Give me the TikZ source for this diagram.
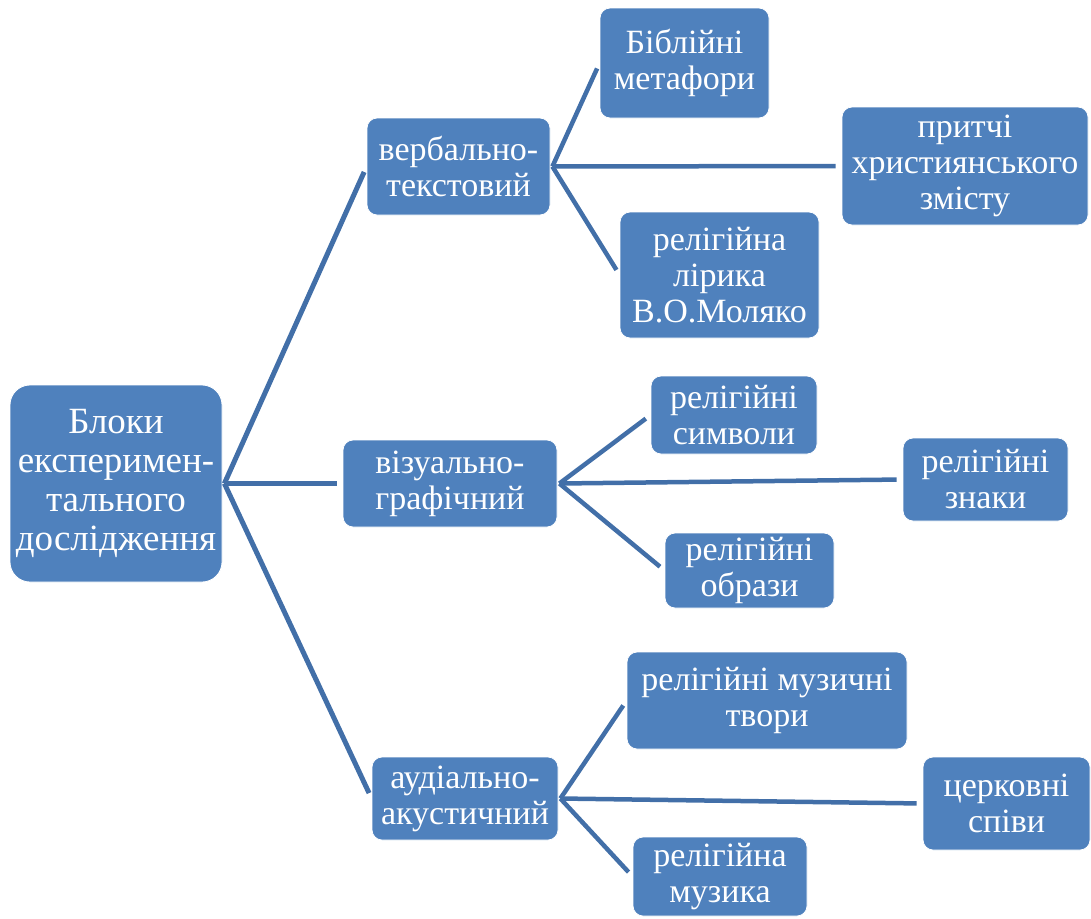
\documentclass[tikz,border=0pt]{standalone}
\usepackage{fontspec}
\setmainfont{LiberationSerif}[Extension=.ttf, UprightFont=*-Regular, BoldFont=*-Bold]
\definecolor{boxblue}{RGB}{79,129,189}
\definecolor{lineblue}{RGB}{66,111,168}
\tikzset{
  box/.style={fill=boxblue, draw=white, line width=0.8pt, rounded corners=10pt,
    text=white, align=center, inner sep=0pt,
    font=\fontsize{34}{36}\selectfont},
  rootbox/.style={box, rounded corners=20pt, font=\fontsize{37}{39}\selectfont},
  link/.style={draw=lineblue, line width=5pt, shorten >=6pt},
  sublink/.style={draw=lineblue, line width=4.5pt, shorten >=6pt}
}
\begin{document}
\begin{tikzpicture}[x=1pt,y=-1pt]
\useasboundingbox (0,0) rectangle (1091,918);
\node[rootbox, minimum width=212pt, minimum height=197pt] (root) at (116,483.5)
  {Блоки\\експеримен-\\тального\\дослідження};
\node[box, minimum width=183pt, minimum height=97pt] (verb) at (458.5,166.5) {вербально-\\текстовий};
\node[box, minimum width=214pt, minimum height=87pt] (viz) at (450,483.5) {візуально-\\графічний};
\node[box, minimum width=186pt, minimum height=83pt] (aud) at (465,798.5) {аудіально-\\акустичний};
\node[box, minimum width=169pt, minimum height=110pt] (bib) at (684.5,63) {Біблійні\\метафори};
\node[box, minimum width=246pt, minimum height=118pt] (prit) at (965,166) {притчі\\християнського\\змісту};
\node[box, minimum width=199pt, minimum height=126pt] (lir) at (719.5,275) {релігійна\\лірика\\В.О.Моляко};
\node[box, minimum width=166pt, minimum height=78pt] (sym) at (734,415) {релігійні\\символи};
\node[box, minimum width=165pt, minimum height=83pt] (zn) at (985.5,479.5) {релігійні\\знаки};
\node[box, minimum width=169pt, minimum height=75pt] (obr) at (749.5,570.5) {релігійні\\образи};
\node[box, minimum width=280pt, minimum height=97pt] (tv) at (767,700.5) {релігійні музичні\\твори};
\node[box, minimum width=167pt, minimum height=93pt] (ts) at (1006.5,803.5) {церковні\\співи};
\node[box, minimum width=174pt, minimum height=79pt] (muz) at (720,876.5) {релігійна\\музика};
% connectors
\draw[link] ([xshift=2pt]root.east) -- (verb.west);
\draw[link] ([xshift=2pt]root.east) -- (viz.west);
\draw[link] ([xshift=2pt]root.east) -- (aud.west);
\draw[sublink] ([xshift=2pt]verb.east) -- (bib.west);
\draw[sublink] ([xshift=2pt]verb.east) -- (prit.west);
\draw[sublink] ([xshift=2pt]verb.east) -- (lir.west);
\draw[sublink] ([xshift=2pt]viz.east) -- (sym.west);
\draw[sublink] ([xshift=2pt]viz.east) -- (zn.west);
\draw[sublink] ([xshift=2pt]viz.east) -- (obr.west);
\draw[sublink] ([xshift=2pt]aud.east) -- (tv.west);
\draw[sublink] ([xshift=2pt]aud.east) -- (ts.west);
\draw[sublink] ([xshift=2pt]aud.east) -- (muz.west);
\end{tikzpicture}
\end{document}
